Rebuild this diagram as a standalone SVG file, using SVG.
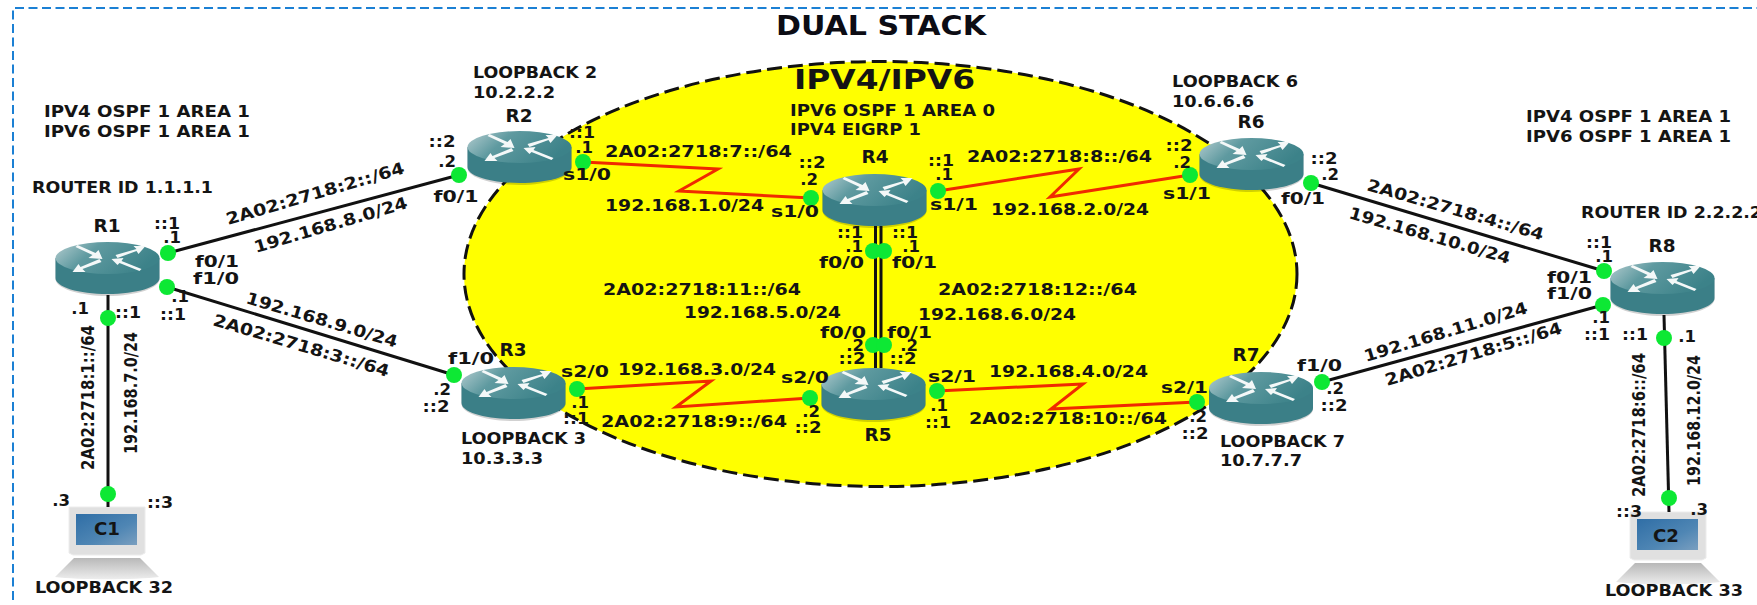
<svg xmlns="http://www.w3.org/2000/svg" width="1757" height="605" viewBox="0 0 1757 605">
<style>
text{font-family:"DejaVu Sans","Liberation Sans",sans-serif;font-weight:bold;font-size:16.5px;fill:#141414}
.m{text-anchor:middle}
.title{font-size:27px;fill:#0c0c14}
.big{font-size:26px}
.n{font-size:17px}
.v{font-size:18px}
.blk{fill:none;stroke:#111;stroke-width:3}
.ser{fill:none;stroke:#f02a00;stroke-width:3;stroke-linejoin:miter}
.dot{fill:#0de834}
</style>
<defs>
<linearGradient id="top" x1="0" y1="0" x2="1" y2="0.35"><stop offset="0" stop-color="#b5cdd0"/><stop offset="0.4" stop-color="#5f9aa0"/><stop offset="1" stop-color="#3c8289"/></linearGradient>
<linearGradient id="scr" x1="0" y1="0" x2="1" y2="1"><stop offset="0" stop-color="#2f6ea6"/><stop offset="0.6" stop-color="#4f86b4"/><stop offset="1" stop-color="#7a9fc0"/></linearGradient>
<linearGradient id="bs" x1="0" y1="0" x2="0" y2="1"><stop offset="0" stop-color="#b8b8b8"/><stop offset="1" stop-color="#ededed"/></linearGradient>
<g id="router">
<path d="M-52,-9V11C-52,20-29,28 0,28S52,20 52,11V-9Z" fill="#000" opacity=".18"/>
<path d="M-52,-10V10C-52,19-29,26 0,26S52,19 52,10V-10Z" fill="#3b7f87"/>
<ellipse cx="0" cy="-10" rx="52" ry="16" fill="url(#top)"/>
<g fill="#f4f8f8">
<path d="M-30,-23L-12,-15L-9,-18L-5,-9L-19,-10L-15,-13L-32,-21Z"/>
<path d="M8,-13L29,-19L26,-22L38,-22L31,-14L29,-17L10,-10Z"/>
<path d="M-6,-6L-25,1L-22,4L-35,4L-29,-4L-27,-1L-8,-9Z"/>
<path d="M4,-9L16,-10L14,-7L34,1L32,3L12,-5L10,-3Z"/>
</g>
</g>
<g id="pc">
<path d="M-38,0H38V46L34,48H-34L-38,46Z" fill="#e0e0e0" stroke="#ececec"/>
<rect x="-31" y="7" width="61" height="31" fill="url(#scr)"/>
<path d="M-33,51H33L52,70C30,73-30,73-52,70Z" fill="url(#bs)"/>
</g>
</defs>
<rect width="1757" height="605" fill="#fff"/>
<path id="frame" d="M13,600V8H1757" fill="none" stroke="#1b80d4" stroke-width="2" stroke-dasharray="9 4.5"/>
<ellipse id="area" cx="880.5" cy="274" rx="416.5" ry="212.5" fill="#ffff00" stroke="#111" stroke-width="3" stroke-dasharray="15 6"/>

<g id="titles">
<text class="title" x="776" y="35" textLength="210" lengthAdjust="spacingAndGlyphs">DUAL STACK</text>
<text class="big" x="794" y="89" textLength="181" lengthAdjust="spacingAndGlyphs">IPV4/IPV6</text>
<text x="790" y="116" textLength="205" lengthAdjust="spacingAndGlyphs">IPV6 OSPF 1 AREA 0</text>
<text x="790" y="135" textLength="131" lengthAdjust="spacingAndGlyphs">IPV4 EIGRP 1</text>
<text x="44" y="117" textLength="206" lengthAdjust="spacingAndGlyphs">IPV4 OSPF 1 AREA 1</text>
<text x="44" y="137" textLength="206" lengthAdjust="spacingAndGlyphs">IPV6 OSPF 1 AREA 1</text>
<text x="32" y="193" textLength="181" lengthAdjust="spacingAndGlyphs">ROUTER ID 1.1.1.1</text>
<text x="1526" y="122" textLength="205" lengthAdjust="spacingAndGlyphs">IPV4 OSPF 1 AREA 1</text>
<text x="1526" y="142" textLength="205" lengthAdjust="spacingAndGlyphs">IPV6 OSPF 1 AREA 1</text>
<text x="1581" y="218" textLength="181" lengthAdjust="spacingAndGlyphs">ROUTER ID 2.2.2.2</text>
</g>

<g id="R1"><use href="#router" x="107.5" y="268"/><text class="m n" x="107" y="232" textLength="27" lengthAdjust="spacingAndGlyphs">R1</text></g>
<g id="R2"><use href="#router" x="519.5" y="157"/><text class="m n" x="519" y="122" textLength="27" lengthAdjust="spacingAndGlyphs">R2</text>
<text x="473" y="78" textLength="124" lengthAdjust="spacingAndGlyphs">LOOPBACK 2</text><text x="473" y="98" textLength="82" lengthAdjust="spacingAndGlyphs">10.2.2.2</text></g>
<g id="R3"><use href="#router" x="513.5" y="393"/><text class="m n" x="513" y="356" textLength="27" lengthAdjust="spacingAndGlyphs">R3</text>
<text x="461" y="444" textLength="125" lengthAdjust="spacingAndGlyphs">LOOPBACK 3</text><text x="461" y="464" textLength="82" lengthAdjust="spacingAndGlyphs">10.3.3.3</text></g>
<g id="R4"><use href="#router" x="874.5" y="200"/><text class="m n" x="875" y="163" textLength="27" lengthAdjust="spacingAndGlyphs">R4</text></g>
<g id="R5"><use href="#router" x="873.5" y="394"/><text class="m n" x="878" y="441" textLength="27" lengthAdjust="spacingAndGlyphs">R5</text></g>
<g id="R6"><use href="#router" x="1251.5" y="164"/><text class="m n" x="1251" y="128" textLength="27" lengthAdjust="spacingAndGlyphs">R6</text>
<text x="1172" y="87" textLength="126" lengthAdjust="spacingAndGlyphs">LOOPBACK 6</text><text x="1172" y="107" textLength="82" lengthAdjust="spacingAndGlyphs">10.6.6.6</text></g>
<g id="R7"><use href="#router" x="1261" y="398"/><text class="m n" x="1246" y="361" textLength="27" lengthAdjust="spacingAndGlyphs">R7</text>
<text x="1220" y="447" textLength="125" lengthAdjust="spacingAndGlyphs">LOOPBACK 7</text><text x="1220" y="466" textLength="82" lengthAdjust="spacingAndGlyphs">10.7.7.7</text></g>
<g id="R8"><use href="#router" x="1662.5" y="288"/><text class="m n" x="1662" y="252" textLength="27" lengthAdjust="spacingAndGlyphs">R8</text></g>
<g id="C1"><use href="#pc" x="107" y="507"/><text class="m n" x="107" y="535" textLength="26" lengthAdjust="spacingAndGlyphs">C1</text>
<text x="35" y="593" textLength="138" lengthAdjust="spacingAndGlyphs">LOOPBACK 32</text></g>
<g id="C2"><use href="#pc" x="1668" y="512"/><text class="m n" x="1666" y="542" textLength="26" lengthAdjust="spacingAndGlyphs">C2</text>
<text x="1605" y="596" textLength="138" lengthAdjust="spacingAndGlyphs">LOOPBACK 33</text></g>

<g id="connectors">
<path class="blk" d="M168,253L459,175"/>
<path class="blk" d="M167,287L454,375"/>
<path class="blk" d="M108,295V507"/>
<path class="blk" d="M1311,183L1604,271"/>
<path class="blk" d="M1322,382L1603,305"/>
<path class="blk" d="M1664,315L1669,512"/>
<path class="blk" d="M875.5,226V368M881,226V368"/>
<path class="ser" d="M583,162L718,169L679,191L811,198"/>
<path class="ser" d="M938,191L1079,169L1050,197L1190,175"/>
<path class="ser" d="M577,389L711,381L676,407L810,398"/>
<path class="ser" d="M937,391L1083,384L1051,409L1197,402"/>
<g class="dot">
<circle cx="168" cy="253" r="8"/><circle cx="167" cy="287" r="8"/><circle cx="108" cy="318" r="8"/><circle cx="108" cy="494" r="8"/>
<circle cx="459" cy="175" r="8"/><circle cx="583" cy="162" r="8"/><circle cx="454" cy="375" r="8"/><circle cx="577" cy="389" r="8"/>
<circle cx="811" cy="198" r="8"/><circle cx="938" cy="191" r="8"/><circle cx="873" cy="251" r="8"/><circle cx="884" cy="251" r="8"/>
<circle cx="873" cy="345" r="8"/><circle cx="884" cy="345" r="8"/><circle cx="810" cy="398" r="8"/><circle cx="937" cy="391" r="8"/>
<circle cx="1190" cy="175" r="8"/><circle cx="1311" cy="183" r="8"/><circle cx="1197" cy="402" r="8"/><circle cx="1322" cy="382" r="8"/>
<circle cx="1604" cy="271" r="8"/><circle cx="1603" cy="305" r="8"/><circle cx="1664" cy="338" r="8"/><circle cx="1669" cy="498" r="8"/>
</g>
</g>

<g id="link-labels">
<text x="228" y="225" transform="rotate(-16.3 228 225)" textLength="185" lengthAdjust="spacingAndGlyphs">2A02:2718:2::/64</text>
<text x="256" y="253" transform="rotate(-16.5 256 253)" textLength="159" lengthAdjust="spacingAndGlyphs">192.168.8.0/24</text>
<text x="245" y="303" transform="rotate(16.5 245 303)" textLength="157" lengthAdjust="spacingAndGlyphs">192.168.9.0/24</text>
<text x="212" y="325" transform="rotate(16.5 212 325)" textLength="183" lengthAdjust="spacingAndGlyphs">2A02:2718:3::/64</text>
<text class="v" x="94" y="470" transform="rotate(-90 94 470)" textLength="145" lengthAdjust="spacingAndGlyphs">2A02:2718:1::/64</text>
<text class="v" x="137" y="454" transform="rotate(-90 137 454)" textLength="122" lengthAdjust="spacingAndGlyphs">192.168.7.0/24</text>
<text x="605" y="157" textLength="187" lengthAdjust="spacingAndGlyphs">2A02:2718:7::/64</text>
<text x="605" y="211" textLength="159" lengthAdjust="spacingAndGlyphs">192.168.1.0/24</text>
<text x="967" y="162" textLength="185" lengthAdjust="spacingAndGlyphs">2A02:2718:8::/64</text>
<text x="991" y="215" textLength="158" lengthAdjust="spacingAndGlyphs">192.168.2.0/24</text>
<text x="603" y="295" textLength="198" lengthAdjust="spacingAndGlyphs">2A02:2718:11::/64</text>
<text x="938" y="295" textLength="199" lengthAdjust="spacingAndGlyphs">2A02:2718:12::/64</text>
<text x="684" y="318" textLength="157" lengthAdjust="spacingAndGlyphs">192.168.5.0/24</text>
<text x="918" y="320" textLength="158" lengthAdjust="spacingAndGlyphs">192.168.6.0/24</text>
<text x="618" y="375" textLength="158" lengthAdjust="spacingAndGlyphs">192.168.3.0/24</text>
<text x="601" y="427" textLength="186" lengthAdjust="spacingAndGlyphs">2A02:2718:9::/64</text>
<text x="989" y="377" textLength="159" lengthAdjust="spacingAndGlyphs">192.168.4.0/24</text>
<text x="969" y="424" textLength="198" lengthAdjust="spacingAndGlyphs">2A02:2718:10::/64</text>
<text x="1366" y="190" transform="rotate(16 1366 190)" textLength="183" lengthAdjust="spacingAndGlyphs">2A02:2718:4::/64</text>
<text x="1348" y="218" transform="rotate(16 1348 218)" textLength="167" lengthAdjust="spacingAndGlyphs">192.168.10.0/24</text>
<text x="1366" y="362" transform="rotate(-16.8 1366 362)" textLength="170" lengthAdjust="spacingAndGlyphs">192.168.11.0/24</text>
<text x="1387" y="386" transform="rotate(-16.8 1387 386)" textLength="184" lengthAdjust="spacingAndGlyphs">2A02:2718:5::/64</text>
<text class="v" x="1645" y="497" transform="rotate(-90 1645 497)" textLength="144" lengthAdjust="spacingAndGlyphs">2A02:2718:6::/64</text>
<text class="v" x="1700" y="486" transform="rotate(-90 1700 486)" textLength="131" lengthAdjust="spacingAndGlyphs">192.168.12.0/24</text>
</g>

<g id="port-labels">
<text class="m" x="167" y="229" textLength="26" lengthAdjust="spacingAndGlyphs">::1</text><text class="m" x="172" y="243">.1</text>
<text x="195" y="267" textLength="44" lengthAdjust="spacingAndGlyphs">f0/1</text><text x="193" y="284" textLength="46" lengthAdjust="spacingAndGlyphs">f1/0</text>
<text class="m" x="180" y="302">.1</text><text class="m" x="173" y="320" textLength="26" lengthAdjust="spacingAndGlyphs">::1</text>
<text class="m" x="80" y="314">.1</text><text class="m" x="128" y="318" textLength="26" lengthAdjust="spacingAndGlyphs">::1</text>
<text class="m" x="61" y="506">.3</text><text class="m" x="160" y="508" textLength="26" lengthAdjust="spacingAndGlyphs">::3</text>
<text class="m" x="442" y="147" textLength="27" lengthAdjust="spacingAndGlyphs">::2</text><text class="m" x="447" y="167">.2</text>
<text class="m" x="456" y="202" textLength="45" lengthAdjust="spacingAndGlyphs">f0/1</text>
<text class="m" x="582" y="138" textLength="26" lengthAdjust="spacingAndGlyphs">::1</text><text class="m" x="584" y="153">.1</text>
<text x="563" y="180" textLength="48" lengthAdjust="spacingAndGlyphs">s1/0</text>
<text x="448" y="364" textLength="46" lengthAdjust="spacingAndGlyphs">f1/0</text>
<text class="m" x="442" y="395">.2</text><text class="m" x="436" y="412" textLength="27" lengthAdjust="spacingAndGlyphs">::2</text>
<text class="m" x="580" y="408">.1</text><text class="m" x="576" y="424" textLength="26" lengthAdjust="spacingAndGlyphs">::1</text>
<text x="561" y="377" textLength="48" lengthAdjust="spacingAndGlyphs">s2/0</text>
<text class="m" x="812" y="168" textLength="27" lengthAdjust="spacingAndGlyphs">::2</text><text class="m" x="809" y="185">.2</text>
<text x="771" y="217" textLength="48" lengthAdjust="spacingAndGlyphs">s1/0</text>
<text class="m" x="941" y="166" textLength="26" lengthAdjust="spacingAndGlyphs">::1</text><text class="m" x="944" y="180">.1</text>
<text x="930" y="210" textLength="48" lengthAdjust="spacingAndGlyphs">s1/1</text>
<text class="m" x="850" y="238" textLength="26" lengthAdjust="spacingAndGlyphs">::1</text><text class="m" x="854" y="252">.1</text>
<text x="819" y="268" textLength="45" lengthAdjust="spacingAndGlyphs">f0/0</text>
<text class="m" x="905" y="238" textLength="26" lengthAdjust="spacingAndGlyphs">::1</text><text class="m" x="911" y="252">.1</text>
<text x="892" y="268" textLength="45" lengthAdjust="spacingAndGlyphs">f0/1</text>
<text x="820" y="338" textLength="46" lengthAdjust="spacingAndGlyphs">f0/0</text><text x="887" y="338" textLength="45" lengthAdjust="spacingAndGlyphs">f0/1</text>
<text class="m" x="855" y="351">.2</text><text class="m" x="909" y="351">.2</text>
<text class="m" x="852" y="364" textLength="27" lengthAdjust="spacingAndGlyphs">::2</text><text class="m" x="903" y="364" textLength="27" lengthAdjust="spacingAndGlyphs">::2</text>
<text x="781" y="383" textLength="48" lengthAdjust="spacingAndGlyphs">s2/0</text>
<text class="m" x="811" y="417">.2</text><text class="m" x="808" y="433" textLength="27" lengthAdjust="spacingAndGlyphs">::2</text>
<text x="928" y="382" textLength="48" lengthAdjust="spacingAndGlyphs">s2/1</text>
<text class="m" x="939" y="411">.1</text><text class="m" x="938" y="428" textLength="26" lengthAdjust="spacingAndGlyphs">::1</text>
<text class="m" x="1179" y="151" textLength="27" lengthAdjust="spacingAndGlyphs">::2</text><text class="m" x="1182" y="168">.2</text>
<text x="1163" y="199" textLength="48" lengthAdjust="spacingAndGlyphs">s1/1</text>
<text class="m" x="1324" y="164" textLength="27" lengthAdjust="spacingAndGlyphs">::2</text><text class="m" x="1330" y="180">.2</text>
<text x="1281" y="204" textLength="44" lengthAdjust="spacingAndGlyphs">f0/1</text>
<text class="m" x="1599" y="248" textLength="26" lengthAdjust="spacingAndGlyphs">::1</text><text class="m" x="1604" y="262">.1</text>
<text x="1547" y="283" textLength="45" lengthAdjust="spacingAndGlyphs">f0/1</text><text x="1547" y="299" textLength="45" lengthAdjust="spacingAndGlyphs">f1/0</text>
<text x="1297" y="371" textLength="45" lengthAdjust="spacingAndGlyphs">f1/0</text>
<text class="m" x="1335" y="394">.2</text><text class="m" x="1334" y="411" textLength="27" lengthAdjust="spacingAndGlyphs">::2</text>
<text x="1161" y="393" textLength="47" lengthAdjust="spacingAndGlyphs">s2/1</text>
<text class="m" x="1198" y="422">.2</text><text class="m" x="1195" y="439" textLength="27" lengthAdjust="spacingAndGlyphs">::2</text>
<text class="m" x="1601" y="323">.1</text><text class="m" x="1597" y="340" textLength="26" lengthAdjust="spacingAndGlyphs">::1</text>
<text class="m" x="1635" y="340" textLength="26" lengthAdjust="spacingAndGlyphs">::1</text><text class="m" x="1687" y="342">.1</text>
<text class="m" x="1629" y="517" textLength="26" lengthAdjust="spacingAndGlyphs">::3</text><text class="m" x="1699" y="515">.3</text>
</g>
</svg>
